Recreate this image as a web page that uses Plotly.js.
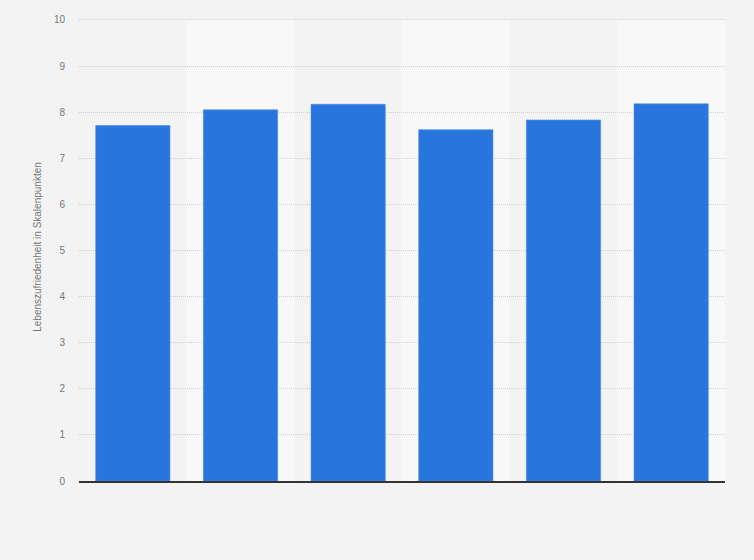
<!DOCTYPE html>
<html>
<head>
<meta charset="utf-8">
<script src="https://cdn.plot.ly/plotly-3.0.1.min.js"></script>
<style>
  html, body { margin: 0; padding: 0; background: #f3f3f3; }
  #chart { width: 754px; height: 560px; }
</style>
</head>
<body>
<div id="chart"></div>
<script>
// no category labels are shown in the source picture
var categories = ['1', '2', '3', '4', '5', '6'];
var values = [7.71, 8.05, 8.17, 7.62, 7.83, 8.18];
var yTicks = [0, 1, 2, 3, 4, 5, 6, 7, 8, 9, 10];

var chartDiv = document.getElementById('chart');

// lighter band behind every second category
var bands = [];
categories.forEach(function(c, i) {
  if (i % 2 === 1) {
    bands.push({
      type: 'rect', layer: 'below',
      xref: 'x', yref: 'y',
      x0: i - 0.5, x1: i + 0.5, y0: 0, y1: 10,
      fillcolor: '#f8f8f8', line: {width: 0}
    });
  }
});

var data = [{
  type: 'bar',
  x: categories.map(function(c, i) { return i; }),
  y: values,
  marker: {color: '#2876dd', line: {color: '#4f8fe6', width: 0.6}},
  hoverinfo: 'y'
}];

var layout = {
  width: 754, height: 560,
  margin: {l: 79, r: 29, t: 13, b: 79},
  paper_bgcolor: '#f3f3f3',
  plot_bgcolor: '#f3f3f3',
  font: {family: 'Liberation Sans, Arial, sans-serif', size: 10, color: '#777'},
  bargap: 0.31,
  showlegend: false,
  shapes: bands,
  xaxis: {
    type: 'linear',
    range: [-0.5, categories.length - 0.5],
    tickvals: categories.map(function(c, i) { return i; }),
    ticktext: categories,
    showticklabels: false,
    showgrid: false,
    zeroline: false,
    showline: true, linecolor: '#333', linewidth: 1.6,
    fixedrange: true
  },
  yaxis: {
    range: [0, 10.15],
    tickvals: yTicks,
    showgrid: true, gridcolor: '#cfcfcf', griddash: '1px,1px', gridwidth: 1,
    zeroline: false,
    showline: false,
    ticks: '',
    ticklabelstandoff: 13,
    tickfont: {size: 10, color: '#777'},
    title: {text: 'Lebenszufriedenheit in Skalenpunkten', font: {size: 10, color: '#777'}, standoff: 10},
    fixedrange: true
  }
};

Plotly.newPlot(chartDiv, data, layout, {displayModeBar: false, staticPlot: true});
</script>
</body>
</html>
